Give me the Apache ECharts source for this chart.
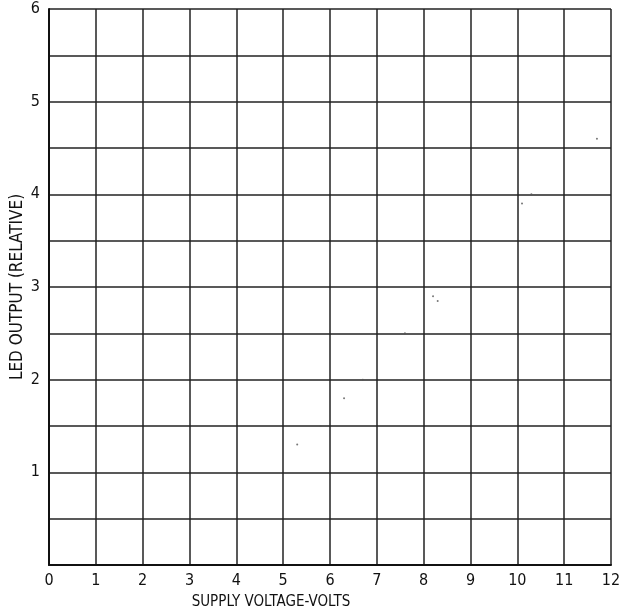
<!DOCTYPE html>
<html>
<head>
<meta charset="utf-8">
<script src="https://cdn.jsdelivr.net/npm/echarts@6/dist/echarts.min.js"></script>
<style>
  html, body { margin: 0; padding: 0; background: #fff; }
  #chart { width: 626px; height: 616px; }
</style>
</head>
<body>
<div id="chart"></div>
<script>
// faint remains of the curve
var voltage = [5.3, 5.8, 6.3, 6.7, 7.6, 8.2, 8.3, 10.1, 10.3, 11.7, 12.0];
var output  = [1.3, 1.5, 1.8, 2.0, 2.5, 2.9, 2.85, 3.9, 4.0, 4.6, 4.9];
var xTicks = [0, 1, 2, 3, 4, 5, 6, 7, 8, 9, 10, 11, 12];
var yTicks = [1, 2, 3, 4, 5, 6];

var font = '"Liberation Sans Narrow", "DejaVu Sans Condensed", sans-serif';
var chart = echarts.init(document.getElementById('chart'));

var pts = voltage.map(function (v, i) { return [v, output[i]]; });

chart.setOption({
  animation: false,
  grid: { left: 49, right: 15, top: 9, bottom: 51, outerBoundsMode: 'none', containLabel: false },
  xAxis: {
    type: 'value', min: 0, max: 12, interval: 1,
    name: 'SUPPLY VOLTAGE-VOLTS', nameLocation: 'middle', nameGap: 30, nameMoveOverlap: false,
    nameTextStyle: { fontFamily: font, fontSize: 15, color: '#111', padding: [0, 118, 0, 0] },
    axisLine: { show: true, onZero: false, lineStyle: { color: '#111', width: 2 } },
    axisTick: { show: false },
    axisLabel: {
      margin: 8, fontFamily: font, fontSize: 16, color: '#111',
      formatter: function (v) { return xTicks.indexOf(v) >= 0 ? String(v) : ''; }
    },
    splitLine: { show: true, lineStyle: { color: '#222', width: 1.5 } }
  },
  yAxis: {
    type: 'value', min: 0, max: 6, interval: 0.5,
    name: 'LED OUTPUT (RELATIVE)', nameLocation: 'middle', nameGap: 23, nameMoveOverlap: false,
    nameTextStyle: { fontFamily: font, fontSize: 17, color: '#111' },
    axisLine: { show: true, onZero: false, lineStyle: { color: '#111', width: 2 } },
    axisTick: { show: false },
    axisLabel: {
      margin: 9, fontFamily: font, fontSize: 16, color: '#111',
      formatter: function (v) { return yTicks.indexOf(v) >= 0 ? String(v) : ''; }
    },
    splitLine: { show: true, lineStyle: { color: '#222', width: 1.5 } }
  },
  series: [{
    type: 'scatter',
    data: pts,
    symbolSize: 2,
    itemStyle: { color: '#555' }
  }]
});
</script>
</body>
</html>
